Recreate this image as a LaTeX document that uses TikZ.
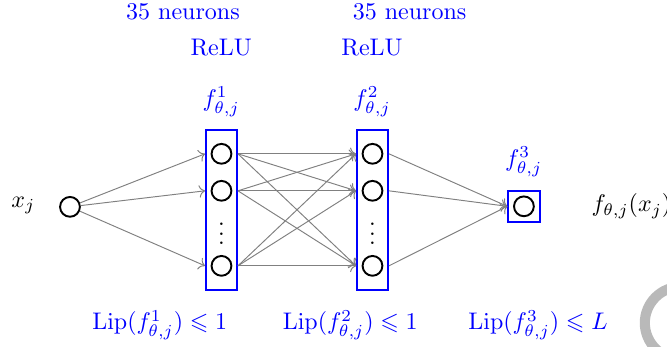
\documentclass[tikz,border=0pt]{standalone}
\usepackage{tikz}
\usetikzlibrary{positioning, arrows.meta, calc}
\usepackage{amsmath}
\usepackage{amssymb}

\begin{document}
\begin{tikzpicture}[
    neuron/.style={draw, circle, thick, minimum size=0.29cm, inner sep=0pt},
    layer/.style={draw=blue, thick, rectangle, minimum width=0.454cm, minimum height=2.343cm, inner sep=0pt},
    outbox/.style={draw=blue, thick, rectangle, minimum size=0.46cm, inner sep=0pt},
    lbl/.style={text=blue},
    arr/.style={->, gray, thin},
    ring/.style={draw=gray!55, line width=4.2pt}
]
    \clip (0,0) rectangle (9.77,5.08);

    \node (xj) at (0.34,2.07) {$x_j$};
    \node[neuron] (in) at (1.025,2.05) {};

    \node[layer] (l1) at (3.244,2.006) {};
    \node[layer] (l2) at (5.456,2.006) {};
    \foreach \i/\y in {1/2.827, 2/2.285, 3/1.186} {
        \node[neuron] (a\i) at (3.244,\y) {};
        \node[neuron] (b\i) at (5.456,\y) {};
    }
    \node[inner sep=0pt] (d1) at (3.244,1.76) {$\vdots$};
    \node[inner sep=0pt] (d2) at (5.456,1.76) {$\vdots$};

    \node[outbox] (ob) at (7.674,2.058) {};
    \node[neuron] (out) at (ob) {};
    \node[anchor=west] (fx) at (8.54,2.065) {$f_{\theta,j}(x_j)$};

    \node[lbl] (n1) at (2.68,4.91) {35 neurons};
    \node[lbl] (n2) at (6.00,4.91) {35 neurons};
    \node[lbl] (r1) at (3.24,4.38) {ReLU};
    \node[lbl] (r2) at (5.45,4.38) {ReLU};
    \node[lbl] (f1) at (3.24,3.59) {$f^1_{\theta,j}$};
    \node[lbl] (f2) at (5.45,3.59) {$f^2_{\theta,j}$};
    \node[lbl] (f3) at (7.67,2.71) {$f^3_{\theta,j}$};

    \node[lbl] (lip1) at (2.34,0.32) {$\mathrm{Lip}(f^1_{\theta,j}) \leqslant 1$};
    \node[lbl] (lip2) at (5.13,0.32) {$\mathrm{Lip}(f^2_{\theta,j}) \leqslant 1$};
    \node[lbl] (lip3) at (7.88,0.32) {$\mathrm{Lip}(f^3_{\theta,j}) \leqslant L$};

    \foreach \i in {1,2,3}
        \draw[arr] (in) -- (a\i -| l1.west);
    \foreach \i in {1,2,3}
        \foreach \k in {1,2,3}
            \draw[arr] (a\i -| l1.east) -- (b\k -| l2.west);
    \foreach \k in {1,2,3}
        \draw[arr] (b\k -| l2.east) -- (ob.west);

    \draw[ring] (9.975,0.35) circle (0.53);
\end{tikzpicture}
\end{document}
